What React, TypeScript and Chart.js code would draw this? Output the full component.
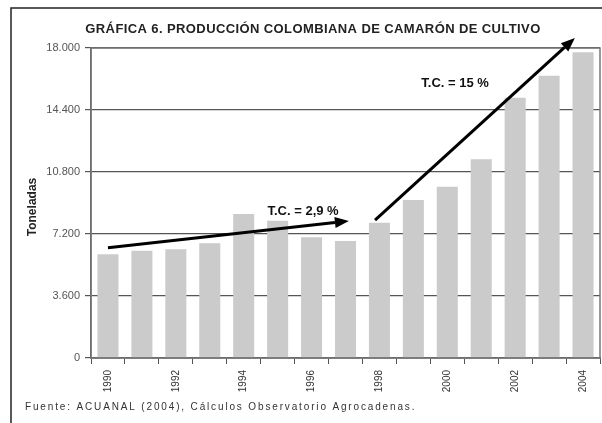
import React, { useEffect, useRef } from "react";
import { Chart, registerables } from "chart.js";

Chart.register(...registerables);

const years = ["1990","1991","1992","1993","1994","1995","1996","1997","1998","1999","2000","2001","2002","2003","2004"];
const toneladas = [6020, 6230, 6310, 6660, 8360, 7970, 7010, 6790, 7860, 9170, 9950, 11540, 15110, 16390, 17750];
const yTicks = [0, 3600, 7200, 10800, 14400, 18000];

const titleText = "GRÁFICA 6. PRODUCCIÓN COLOMBIANA DE CAMARÓN DE CULTIVO";
const yTitle = "Toneladas";
const sourceText = "Fuente: ACUANAL (2004), Cálculos Observatorio Agrocadenas.";

// arrows: [startIndex, startValue, endIndex, endValue]
const arrowLow = [0, 6400, 7.1, 7960];
const arrowHigh = [7.87, 8010, 13.76, 18580];
const labelLow = { text: "T.C. = 2,9 %", x: 5.75, y: 8500 };
const labelHigh = { text: "T.C. = 15 %", x: 10.23, y: 15950 };

const FONT = "'Liberation Sans', Arial, sans-serif";

function fmt(v: number) {
  return String(v).replace(/\B(?=(\d{3})+(?!\d))/g, ".");
}

function drawArrow(ctx: CanvasRenderingContext2D, x1: number, y1: number, x2: number, y2: number) {
  const ang = Math.atan2(y2 - y1, x2 - x1);
  const headLen = 14;
  const headW = 5.5;
  const bx = x2 - headLen * Math.cos(ang);
  const by = y2 - headLen * Math.sin(ang);
  ctx.save();
  ctx.strokeStyle = "#000";
  ctx.fillStyle = "#000";
  ctx.lineWidth = 3;
  ctx.beginPath();
  ctx.moveTo(x1, y1);
  ctx.lineTo(bx, by);
  ctx.stroke();
  ctx.beginPath();
  ctx.moveTo(x2, y2);
  ctx.lineTo(bx + headW * Math.sin(ang), by - headW * Math.cos(ang));
  ctx.lineTo(bx - headW * Math.sin(ang), by + headW * Math.cos(ang));
  ctx.closePath();
  ctx.fill();
  ctx.restore();
}

const decorPlugin = {
  id: "decor",
  afterDraw(chart: any) {
    const ctx: CanvasRenderingContext2D = chart.ctx;
    const xs = chart.scales.x;
    const ys = chart.scales.y;
    const ca = chart.chartArea;

    ctx.save();
    // plot border
    ctx.strokeStyle = "#777";
    ctx.lineWidth = 1.5;
    ctx.strokeRect(ca.left, ca.top, ca.right - ca.left, ca.bottom - ca.top);

    // outer frame
    ctx.strokeStyle = "#222";
    ctx.lineWidth = 1.5;
    ctx.beginPath();
    ctx.moveTo(11, 423);
    ctx.lineTo(11, 8);
    ctx.lineTo(602, 8);
    ctx.stroke();

    // arrows
    drawArrow(ctx, xs.getPixelForValue(arrowLow[0]), ys.getPixelForValue(arrowLow[1]), xs.getPixelForValue(arrowLow[2]), ys.getPixelForValue(arrowLow[3]));
    drawArrow(ctx, xs.getPixelForValue(arrowHigh[0]), ys.getPixelForValue(arrowHigh[1]), xs.getPixelForValue(arrowHigh[2]), ys.getPixelForValue(arrowHigh[3]));

    // annotation labels
    ctx.fillStyle = "#111";
    ctx.font = `bold 13px ${FONT}`;
    ctx.textAlign = "center";
    ctx.textBaseline = "middle";
    ctx.fillText(labelLow.text, xs.getPixelForValue(labelLow.x), ys.getPixelForValue(labelLow.y));
    ctx.fillText(labelHigh.text, xs.getPixelForValue(labelHigh.x), ys.getPixelForValue(labelHigh.y));

    // title
    ctx.font = `bold 13px ${FONT}`;
    ctx.fillStyle = "#222";
    (ctx as any).letterSpacing = "0.4px";
    ctx.fillText(titleText, 313, 29);
    (ctx as any).letterSpacing = "0px";

    // y axis title
    ctx.save();
    ctx.translate(33, 207);
    ctx.rotate(-Math.PI / 2);
    ctx.font = `bold 12px ${FONT}`;
    ctx.fillText(yTitle, 0, 0);
    ctx.restore();

    // source
    ctx.textAlign = "left";
    ctx.font = `10px ${FONT}`;
    ctx.fillStyle = "#333";
    (ctx as any).letterSpacing = "1.85px";
    ctx.fillText(sourceText, 25, 407);
    (ctx as any).letterSpacing = "0px";
    ctx.restore();
  },
};

export default function App() {
  const ref = useRef<HTMLCanvasElement | null>(null);
  useEffect(() => {
    if (!ref.current) return;
    const chart = new Chart(ref.current, {
      type: "bar",
      data: {
        labels: years,
        datasets: [
          {
            data: toneladas,
            backgroundColor: "#cbcbcb",
            borderWidth: 0,
            barPercentage: 0.62,
            categoryPercentage: 1.0,
          },
        ],
      },
      options: {
        responsive: false,
        animation: false,
        layout: { padding: { top: 48, right: 2, left: 0, bottom: 0 } },
        plugins: {
          legend: { display: false },
          title: { display: false },
          tooltip: { enabled: false },
        },
        scales: {
          x: {
            type: "category",
            offset: true,
            grid: { offset: true, drawOnChartArea: false, drawTicks: true, tickLength: 6, color: "#555" },
            border: { display: true, color: "#555", width: 1.5 },
            ticks: {
              autoSkip: false,
              minRotation: 90,
              maxRotation: 90,
              padding: 6,
              color: "#333",
              font: { family: FONT, size: 10 },
              callback: (_v: any, i: number) => (i % 2 === 0 ? years[i] : ""),
            },
            afterFit: (s: any) => {
              s.height = 65;
            },
          },
          y: {
            min: 0,
            max: 18000,
            afterBuildTicks: (s: any) => {
              s.ticks = yTicks.map((v) => ({ value: v }));
            },
            grid: { color: "#555", lineWidth: 1.2, tickLength: 6, drawTicks: true },
            border: { display: true, color: "#555", width: 1.5 },
            ticks: {
              padding: 5,
              color: "#555",
              font: { family: FONT, size: 11 },
              callback: (v: any) => fmt(Number(v)),
            },
            afterFit: (s: any) => {
              s.width = 91;
            },
          },
        },
      } as any,
      plugins: [decorPlugin],
    });
    return () => chart.destroy();
  }, []);
  return (
    <div style={{ position: "absolute", left: 0, top: 0, width: 602, height: 423, background: "#fff" }}>
      <canvas ref={ref} width={602} height={423} style={{ display: "block" }} />
    </div>
  );
}
